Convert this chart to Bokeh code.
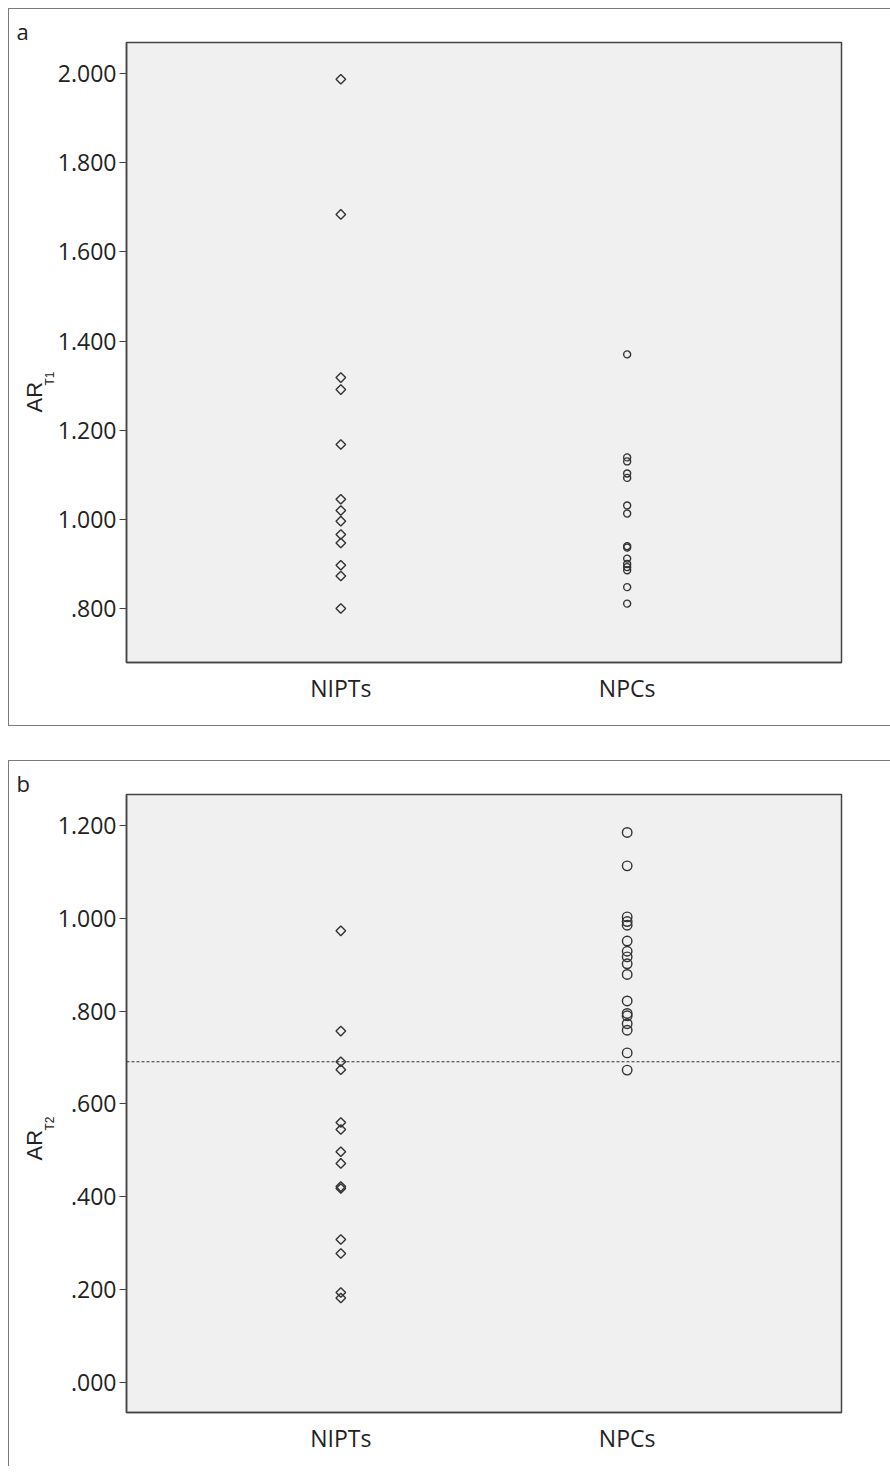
import math
from bokeh.plotting import figure
from bokeh.models import FactorRange, Range1d, FixedTicker, Span, Title
from bokeh.layouts import column
from bokeh.embed import file_html
from bokeh.resources import INLINE

# ---------------- data ----------------
groups = ["NIPTs", "NPCs"]

nipt_t1 = [1.987, 1.684, 1.318, 1.291, 1.168, 1.045, 1.020, 0.996, 0.966, 0.947, 0.897, 0.873, 0.800]
npc_t1 = [1.370, 1.139, 1.130, 1.103, 1.093, 1.031, 1.013, 0.940, 0.937, 0.912, 0.900, 0.893, 0.886, 0.848, 0.811]

nipt_t2 = [0.973, 0.757, 0.691, 0.674, 0.560, 0.545, 0.497, 0.472, 0.422, 0.418, 0.308, 0.278, 0.194, 0.182]
npc_t2 = [1.185, 1.113, 1.003, 0.993, 0.985, 0.951, 0.929, 0.917, 0.902, 0.879, 0.822, 0.795, 0.790, 0.773, 0.759, 0.710, 0.673]

ticks_a = [0.8, 1.0, 1.2, 1.4, 1.6, 1.8, 2.0]
tick_labels_a = [".800", "1.000", "1.200", "1.400", "1.600", "1.800", "2.000"]
ticks_b = [0.0, 0.2, 0.4, 0.6, 0.8, 1.0, 1.2]
tick_labels_b = [".000", ".200", ".400", ".600", ".800", "1.000", "1.200"]

cutoff_t2 = 0.691

# ---------------- style ----------------
FONT = "Open Sans"
INK = "#333333"
AXIS = "#444444"
TXT = "#222222"
PAD = 0.2485


def make_panel(tag, sub, lab_off, sub_off, yr, ticks, labels, nipt, npc,
               circle_size, height, bottom, cutoff=None):
    p = figure(width=882, height=height,
               x_range=FactorRange(factors=groups, range_padding=PAD,
                                   range_padding_units="absolute"),
               y_range=Range1d(*yr),
               output_backend="svg", toolbar_location=None,
               min_border_left=117, min_border_right=50,
               min_border_top=33, min_border_bottom=bottom)
    p.background_fill_color = "#f0f0f0"
    p.border_fill_color = "white"
    p.outline_line_color = AXIS
    p.outline_line_width = 1.5
    p.xgrid.visible = False
    p.ygrid.visible = False

    p.yaxis.ticker = FixedTicker(ticks=ticks)
    p.yaxis.major_label_overrides = dict(zip(ticks, labels))
    p.yaxis.minor_tick_line_color = None
    p.yaxis.major_tick_out = 7
    p.yaxis.major_tick_in = 0
    p.yaxis.major_tick_line_color = AXIS
    p.yaxis.major_tick_line_width = 1.2
    p.yaxis.axis_line_color = AXIS
    p.yaxis.axis_line_width = 1.5
    p.yaxis.major_label_text_font = FONT
    p.yaxis.major_label_text_font_size = "23px"
    p.yaxis.major_label_text_color = TXT
    p.yaxis.major_label_standoff = 3

    p.xaxis.major_tick_line_color = None
    p.xaxis.axis_line_color = AXIS
    p.xaxis.axis_line_width = 1.5
    p.xaxis.major_label_text_font = FONT
    p.xaxis.major_label_text_font_size = "23px"
    p.xaxis.major_label_text_color = TXT
    p.xaxis.major_label_standoff = 3

    if cutoff is not None:
        p.add_layout(Span(location=cutoff, dimension="width", line_color=INK,
                          line_width=1.2, line_dash="3 2"))

    p.scatter(x=[groups[0]] * len(nipt), y=nipt, marker="square",
              angle=math.pi / 4, size=6.8, fill_color=None,
              line_color=INK, line_width=1.4)
    p.scatter(x=[groups[1]] * len(npc), y=npc, marker="circle",
              size=circle_size, fill_color=None,
              line_color=INK, line_width=1.4)

    # panel tag, above the frame, shifted to the left edge of the box
    p.add_layout(Title(text=tag, align="left", offset=-110, standoff=-6,
                       text_font=FONT, text_font_size="22px",
                       text_font_style="normal", text_color=TXT), "above")
    # y label "AR" with subscript, as vertical titles in the left panel
    p.add_layout(Title(text=sub, align="left", offset=sub_off, standoff=-5,
                       text_font="Liberation Sans", text_font_size="12px",
                       text_font_style="normal", text_color=TXT), "left")
    p.add_layout(Title(text="AR", align="left", offset=lab_off, standoff=-7,
                       text_font="Liberation Sans", text_font_size="22px",
                       text_font_style="normal", text_color=TXT), "left")

    p.styles = {"border-left": "1px solid #7a7a7a",
                "border-top": "1px solid #7a7a7a",
                "border-bottom": "1px solid #7a7a7a" if tag == "a" else "none"}
    return p


# offsets: pixels above the frame bottom where the text starts
pa = make_panel("a", "T1", 250, 277, (0.679, 2.0695),
                ticks_a, tick_labels_a, nipt_t1, npc_t1,
                circle_size=7, height=718, bottom=65)
pb = make_panel("b", "T2", 252, 282, (-0.0646, 1.2667),
                ticks_b, tick_labels_b, nipt_t2, npc_t2,
                circle_size=9.5, height=706, bottom=55, cutoff=cutoff_t2)

layout = column(pa, pb, spacing=34, margin=(8, 0, 0, 8))
open("out.html", "w").write(file_html(layout, INLINE))
